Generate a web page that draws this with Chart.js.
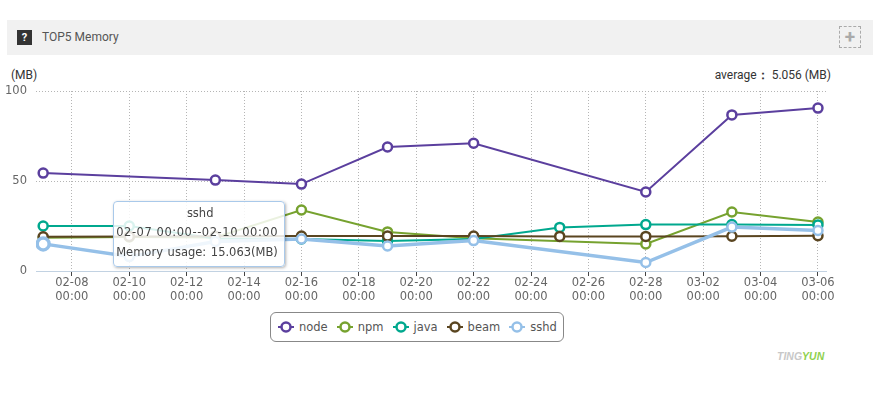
<!DOCTYPE html>
<html lang="en">
<head>
<meta charset="UTF-8">
<title>TOP5 Memory</title>
<script src="https://cdn.jsdelivr.net/npm/chart.js@4/dist/chart.umd.min.js"></script>
<style>
    html, body { margin: 0; padding: 0; background: #fff; }
    body { position: relative; width: 873px; height: 394px; overflow: hidden; font-family: "DejaVu Sans", sans-serif; color: #555; }
    #head { position: absolute; left: 7px; top: 20px; width: 866px; height: 35px; background: #f1f1f1; }
    #help { position: absolute; left: 10px; top: 10px; width: 15px; height: 15px; background: #333; color: #fff; font: bold 11px/15px Roboto, sans-serif; text-align: center; }
    #title { position: absolute; left: 35px; top: 8px; font: 12px/18px Roboto, sans-serif; color: #555; }
    #plus { position: absolute; left: 832px; top: 6px; width: 20px; height: 20px; border: 1px dashed #aaa; color: #aaa; font: bold 19px/20px Roboto, sans-serif; text-align: center; }
    #unit { position: absolute; left: 11px; top: 67px; font: 12px/16px Roboto, sans-serif; color: #333; }
    #avg { position: absolute; right: 42px; top: 67px; font: 12px/16px Roboto, sans-serif; color: #333; }
    #avg b { margin-right: 3px; }
    #wrap { position: absolute; left: 0; top: 80px; width: 873px; height: 230px; }
    #tip { position: absolute; box-sizing: border-box; width: 172px; height: 66px; background: rgba(255,255,255,.85); border: 1px solid #a9c9ea; border-radius: 4px; box-shadow: 1px 1px 3px rgba(0,0,0,.3); font-size: 11.5px; color: #444; white-space: nowrap; padding: 2px 0 0 2px; line-height: 19.5px; }
    #tip div:first-child { text-align: center; }
    #tip div:nth-child(2) { letter-spacing: .55px; }
    #tip div:nth-child(3) { word-spacing: 1px; }
    #legend { position: absolute; left: 270px; top: 312px; box-sizing: border-box; width: 294px; height: 30px; border: 1px solid #888; border-radius: 6px; display: flex; align-items: center; padding-left: 7px; font-size: 11.5px; color: #555; }
    #legend .item { display: flex; align-items: center; margin-right: 9px; }
    #legend svg { margin-right: 5px; }
    #logo { position: absolute; left: 777px; top: 349px; font: italic bold 10.5px/14px "Liberation Sans", sans-serif; color: #c8c8c8; }
    #logo span { color: #8fd14f; }
</style>
</head>
<body>
<div id="head">
    <div id="help">?</div>
    <div id="title">TOP5 Memory</div>
    <div id="plus">+</div>
</div>
<div id="unit">(MB)</div>
<div id="avg">average<b>：</b>5.056 (MB)</div>
<div id="wrap"><canvas id="myChart"></canvas></div>
<div id="tip" style="display:none"></div>
<div id="legend"></div>
<div id="logo">TING<span>YUN</span></div>

<script>
// days counted from 02-07
const pointDays = [0, 3, 6, 9, 12, 15, 18, 21, 24, 27];
const tickDays = [1, 3, 5, 7, 9, 11, 13, 15, 17, 19, 21, 23, 25, 27];
const tickDates = ['02-08', '02-10', '02-12', '02-14', '02-16', '02-18', '02-20', '02-22', '02-24', '02-26', '02-28', '03-02', '03-04', '03-06'];
const tickTime = '00:00';
const pointDates = ['02-07', '02-10', '02-13', '02-16', '02-19', '02-22', '02-25', '02-28', '03-03', '03-06'];

const seriesNames = ['node', 'npm', 'java', 'beam', 'sshd'];
const seriesColors = ['#5b3f9e', '#76a22f', '#00a88e', '#5a4520', '#95c0e8'];
const nodeValues = [54.4, null, 50.5, 48.3, 68.9, 71, null, 43.9, 86.7, 90.5];
const npmValues = [18.5, 18.9, 18.6, 33.9, 21.7, 18.2, null, 15, 32.8, 27.2];
const javaValues = [25, 25, 18, 17.8, 16.7, 17.8, 24.2, 25.8, 25.8, 25.6];
const beamValues = [19, 19.2, 19.3, 19.4, 19.4, 19.4, 19.2, 19.2, 19.3, 19.6];
const sshdValues = [15.063, 8, 16.4, 17.8, 13.9, 16.9, null, 4.7, 24.4, 22.5];
const allValues = [nodeValues, npmValues, javaValues, beamValues, sshdValues];

const datasets = seriesNames.map((name, i) => ({
    label: name,
    data: pointDays.map((d, j) => ({ x: d, y: allValues[i][j] })),
    borderColor: seriesColors[i],
    backgroundColor: '#fff',
    borderWidth: name === 'sshd' ? 3.5 : 2,
    pointRadius: 4.5,
    pointBorderWidth: 2.5,
    pointHoverRadius: 6,
    pointHoverBorderWidth: 3.5,
    pointHoverBackgroundColor: '#fff',
    pointHoverBorderColor: seriesColors[i],
    spanGaps: true,
    tension: 0,
    order: seriesNames.length - i
}));

function showTip(ctx) {
    const tip = document.getElementById('tip');
    const t = ctx.tooltip;
    if (t.opacity === 0) { tip.style.display = 'none'; return; }
    const p = t.dataPoints[0];
    const i = p.dataIndex;
    tip.innerHTML = '<div>' + p.dataset.label + '</div><div>' + pointDates[i] + ' 00:00--' + pointDates[i + 1] + ' 00:00</div><div>Memory usage: ' + p.parsed.y.toFixed(3) + '(MB)</div>';
    tip.style.display = 'block';
    tip.style.left = (p.element.x + 70) + 'px';
    tip.style.top = (80 + p.element.y - 43) + 'px';
}

const chart = new Chart(document.getElementById('myChart').getContext('2d'), {
    type: 'line',
    data: { datasets: datasets },
    options: {
        responsive: true,
        maintainAspectRatio: false,
        animation: false,
        events: [],
        layout: { autoPadding: false, padding: { left: 0, right: 47, top: 11, bottom: 3 } },
        plugins: {
            legend: { display: false },
            title: { display: false },
            tooltip: { enabled: false, external: showTip }
        },
        scales: {
            x: {
                type: 'linear',
                min: -0.25,
                max: 27.28,
                afterBuildTicks: axis => { axis.ticks = tickDays.map(v => ({ value: v })); },
                afterFit: axis => { axis.height = 36; axis.paddingLeft = 0; axis.paddingRight = 0; },
                grid: { color: '#b5b5b5', tickColor: '#444', tickLength: 5, tickBorderDash: [] },
                border: { display: true, color: '#c2d2e2', dash: [1, 2], width: 1 },
                ticks: {
                    autoSkip: false,
                    maxRotation: 0,
                    padding: 0,
                    color: '#666',
                    font: { family: '"DejaVu Sans"', size: 11.5 },
                    callback: value => [tickDates[tickDays.indexOf(value)], tickTime]
                }
            },
            y: {
                min: 0,
                max: 100,
                afterFit: axis => { axis.width = 36; axis.paddingTop = 0; axis.paddingBottom = 0; },
                afterBuildTicks: axis => { axis.ticks = [0, 50, 100].map(v => ({ value: v })); },
                grid: { color: c => c.tick.value === 0 ? 'transparent' : '#b5b5b5', drawTicks: false },
                border: { display: false, dash: [1, 2] },
                ticks: {
                    padding: 9,
                    color: '#666',
                    font: { family: '"DejaVu Sans"', size: 11.5 }
                }
            }
        }
    }
});

// legend built from the same series
document.getElementById('legend').innerHTML = seriesNames.map((name, i) =>
    '<span class="item"><svg width="16" height="12"><line x1="0" y1="6" x2="16" y2="6" stroke="' + seriesColors[i] + '" stroke-width="2"/><circle cx="8" cy="6" r="4.5" fill="#fff" stroke="' + seriesColors[i] + '" stroke-width="2.5"/></svg>' + name + '</span>'
).join('');

// the picture has the sshd point at 02-07 hovered
const active = [{ datasetIndex: 4, index: 0 }];
chart.setActiveElements(active);
chart.tooltip.setActiveElements(active, { x: 0, y: 0 });
chart.update();
</script>
</body>
</html>
